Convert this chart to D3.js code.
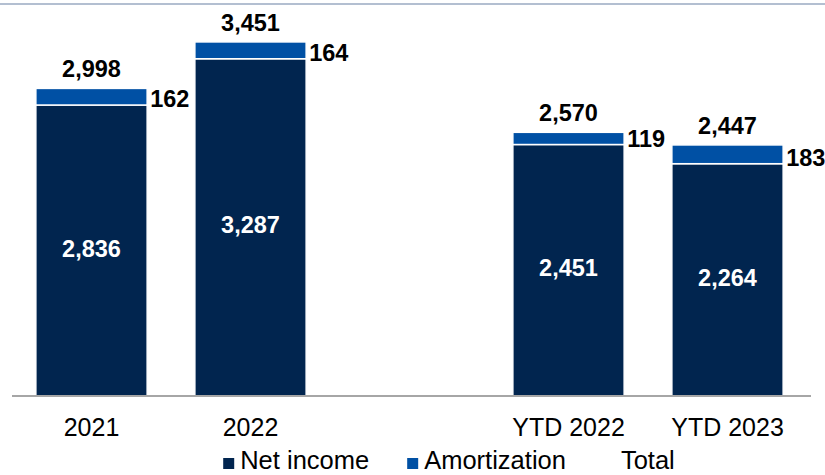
<!DOCTYPE html>
<html>
<head>
<meta charset="utf-8">
<script src="https://cdn.jsdelivr.net/npm/d3@7/dist/d3.min.js"></script>
<style>
  html, body { margin: 0; padding: 0; background: #ffffff; }
  svg { display: block; font-family: "Liberation Sans", Arial, sans-serif; }
</style>
</head>
<body>
<svg id="chart" width="825" height="475"></svg>
<script>
// Chart data
const categories = ["2021", "2022", "YTD 2022", "YTD 2023"];
const netIncome = [2836, 3287, 2451, 2264];
const amortization = [162, 164, 119, 183];
const totals = [2998, 3451, 2570, 2447];
const legendLabels = ["Net income", "Amortization", "Total"];

const colors = { net: "#01254f", amort: "#0050a4", total: "none" };

const svg = d3.select("#chart");
const W = 825;

// Slots: an empty slot separates full years from year-to-date bars
const slots = [categories[0], categories[1], "__spacer__", categories[2], categories[3]];

const x = d3.scaleBand()
  .domain(slots)
  .range([12, 807])
  .paddingInner(0.3)
  .paddingOuter(0.15);

const baseY = 396;
const y = d3.scaleLinear()
  .domain([0, 3800])
  .range([baseY, baseY - 3800 * 0.1026]);

const fmt = d3.format(",");

// Top rule
svg.append("line")
  .attr("x1", 0).attr("x2", W)
  .attr("y1", 4).attr("y2", 4)
  .attr("stroke", "#b3bfd1")
  .attr("stroke-width", 2);

const rows = categories.map((c, i) => ({
  cat: c, net: netIncome[i], amort: amortization[i], total: totals[i]
}));

const stack = d3.stack().keys(["net", "amort"])(rows);

// Stacked bars
svg.append("g").selectAll("g")
  .data(stack)
  .join("g")
  .attr("fill", d => colors[d.key])
  .selectAll("rect")
  .data(d => d)
  .join("rect")
  .attr("x", d => x(d.data.cat))
  .attr("width", x.bandwidth())
  .attr("y", d => y(d[1]))
  .attr("height", d => y(d[0]) - y(d[1]))
  .attr("stroke", "#ffffff")
  .attr("stroke-width", 1.5);

// Baseline
svg.append("line")
  .attr("x1", 12).attr("x2", 811)
  .attr("y1", baseY).attr("y2", baseY)
  .attr("stroke", "#a6a6a6")
  .attr("stroke-width", 2);

// Net income labels inside the dark segment
svg.append("g").selectAll("text")
  .data(rows)
  .join("text")
  .attr("x", d => x(d.cat) + x.bandwidth() / 2)
  .attr("y", d => (y(0) + y(d.net)) / 2 - 2)
  .attr("text-anchor", "middle")
  .attr("dominant-baseline", "central")
  .attr("fill", "#ffffff")
  .attr("font-weight", "bold")
  .attr("font-size", 23.5)
  .text(d => fmt(d.net));

// Amortization labels to the right of the bar
svg.append("g").selectAll("text")
  .data(rows)
  .join("text")
  .attr("x", d => x(d.cat) + x.bandwidth() + 3)
  .attr("y", d => y(d.net) - 6)
  .attr("text-anchor", "start")
  .attr("dominant-baseline", "central")
  .attr("fill", "#000000")
  .attr("font-weight", "bold")
  .attr("font-size", 23.5)
  .text(d => fmt(d.amort));

// Total labels above the bar
svg.append("g").selectAll("text")
  .data(rows)
  .join("text")
  .attr("x", d => x(d.cat) + x.bandwidth() / 2)
  .attr("y", d => y(d.total) - 11)
  .attr("text-anchor", "middle")
  .attr("fill", "#000000")
  .attr("font-weight", "bold")
  .attr("font-size", 23.5)
  .text(d => fmt(d.total));

// Category axis
const xAxis = d3.axisBottom(x)
  .tickValues(categories)
  .tickSize(0)
  .tickPadding(0);
const axisG = svg.append("g")
  .attr("transform", `translate(0,${baseY})`)
  .call(xAxis);
axisG.select(".domain").remove();
axisG.selectAll("text")
  .attr("dy", null)
  .attr("y", 40)
  .attr("fill", "#000000")
  .attr("font-family", "'Liberation Sans', Arial, sans-serif")
  .attr("font-size", 25);

// Legend
const legend = svg.append("g");
const legendColors = [colors.net, colors.amort, colors.total];
let lx = 0;
legendLabels.forEach((label, i) => {
  const item = legend.append("g").attr("transform", `translate(${lx},0)`);
  item.append("rect")
    .attr("x", 0).attr("y", -11)
    .attr("width", 11).attr("height", 11)
    .attr("fill", legendColors[i]);
  const t = item.append("text")
    .attr("x", 17).attr("y", 0)
    .attr("font-size", 25.5)
    .attr("fill", "#000000")
    .text(label);
  lx += 17 + t.node().getComputedTextLength() + 38;
});
const legendWidth = lx - 38;
legend.attr("transform", `translate(${449 - legendWidth / 2},469)`);
</script>
</body>
</html>
